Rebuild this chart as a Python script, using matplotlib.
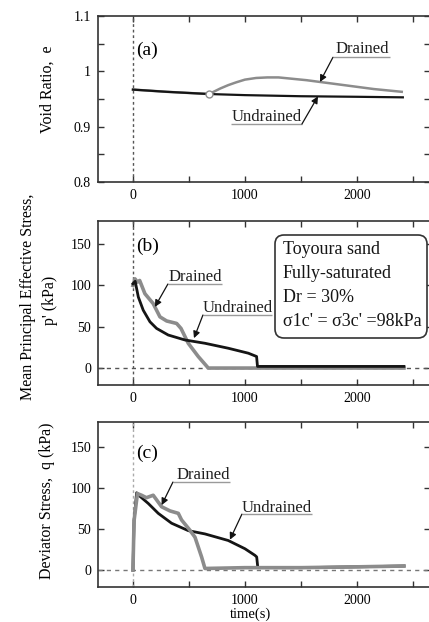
import numpy as np
import matplotlib
matplotlib.use("Agg")
import matplotlib.pyplot as plt
from matplotlib.patches import FancyBboxPatch
from matplotlib.ticker import FixedLocator, FixedFormatter, MultipleLocator

plt.rcParams['font.family'] = ['Liberation Serif', 'DejaVu Serif']

# ---- (a) void ratio ----
t_e_undr = [0, 300, 679, 1000, 1500, 2000, 2410]
e_undr = [0.967, 0.963, 0.959, 0.957, 0.955, 0.954, 0.953]
t_e_dr = [0, 300, 679, 720, 780, 850, 920, 1000, 1100, 1200, 1300, 1400,
          1550, 1700, 1850, 2000, 2150, 2300, 2400]
e_dr = [0.967, 0.963, 0.959, 0.963, 0.969, 0.975, 0.980, 0.985, 0.988, 0.989,
        0.989, 0.987, 0.984, 0.980, 0.976, 0.972, 0.968, 0.965, 0.963]
t_e_mark = [679]
e_mark = [0.959]

# ---- (b) mean principal effective stress ----
t_p_undr = [0, 20, 48, 92, 152, 211, 315, 464, 643, 851, 1030, 1104, 1112,
            1400, 1800, 2420]
p_undr = [102, 105, 86, 70, 56, 48, 40, 34, 30, 24, 18, 14, 2, 2, 2, 2]
t_p_dr = [0, 18, 40, 60, 107, 181, 241, 301, 390, 429, 494, 583, 673, 2420]
p_dr = [100, 108, 104, 106, 90, 78, 62, 57, 54, 48, 30, 14, 0, 0]

# ---- (c) deviator stress ----
t_q_undr = [0, 10, 33, 60, 137, 226, 345, 494, 643, 851, 1000, 1089, 1105,
            1115, 1500, 2000, 2420]
q_undr = [0, 60, 94, 90, 81, 69, 57, 48, 44, 36, 26, 18, 16, 3, 3, 4, 5]
t_q_dr = [0, 10, 40, 77, 120, 181, 256, 330, 405, 434, 500, 554, 613, 643,
          1000, 1500, 2000, 2420]
q_dr = [0, 60, 93, 91, 88, 91, 77, 72, 69, 61, 50, 40, 16, 2, 3, 3, 4, 5]

x_ticks = [0, 1000, 2000]
x_ticklabels = ['0', '1000', '2000']
e_ticks = [0.8, 0.9, 1.0, 1.1]
e_ticklabels = ['0.8', '0.9', '1', '1.1']
s_ticks = [0, 50, 100, 150]
s_ticklabels = ['0', '50', '100', '150']

info_lines = ["Toyoura sand", "Fully-saturated", "Dr = 30%",
              "\u03c31c' = \u03c33c' =98kPa"]

GRAY = '#8c8c8c'
BLACK = '#151515'

W, H = 429, 622
fig = plt.figure(figsize=(W / 100, H / 100), dpi=100)
fig.patch.set_facecolor('white')


def axes_px(left, top, right, bottom):
    return fig.add_axes([left / W, 1 - bottom / H, (right - left) / W,
                         (bottom - top) / H])


ax_a = axes_px(98, 16, 429.5, 182)
ax_b = axes_px(98, 221, 429.5, 385)
ax_c = axes_px(98, 422, 429.5, 587)

XLIM = (-312, 2648)


def style(ax, yticks, ylabels, ylim, yminor=None):
    ax.set_xlim(*XLIM)
    ax.set_ylim(*ylim)
    ax.xaxis.set_major_locator(FixedLocator(x_ticks))
    ax.xaxis.set_major_formatter(FixedFormatter(x_ticklabels))
    ax.xaxis.set_minor_locator(MultipleLocator(500))
    ax.yaxis.set_major_locator(FixedLocator(yticks))
    ax.yaxis.set_major_formatter(FixedFormatter(ylabels))
    if yminor is not None:
        ax.yaxis.set_minor_locator(MultipleLocator(yminor))
    ax.tick_params(which='both', direction='in', top=True, right=True,
                   length=4.5, width=1.0, color='#333333')
    ax.tick_params(which='major', labelsize=10, pad=5)
    for sp in ax.spines.values():
        sp.set_linewidth(1.2)
        sp.set_color('#333333')
    ax.set_facecolor('white')


def label_with_leader(ax, text, center, uline, start, tip):
    ax.text(center[0], center[1], text, fontsize=12, ha='center',
            va='center', color='#202020')
    ax.plot(uline[0], uline[1], color='#9a9a9a', lw=1.0,
            solid_capstyle='butt')
    ax.annotate('', xy=tip, xytext=start,
                arrowprops=dict(arrowstyle='-|>', color='#111111', lw=0.9,
                                mutation_scale=10, shrinkA=0, shrinkB=0))


# ---------- panel (a) ----------
style(ax_a, e_ticks, e_ticklabels, (0.8, 1.1), yminor=0.05)
ax_a.axvline(0, color='#555555', lw=1.0, ls=(0, (2, 2)))
ax_a.plot(t_e_dr, e_dr, color=GRAY, lw=1.8)
ax_a.plot(t_e_undr, e_undr, color=BLACK, lw=1.6)
ax_a.plot(t_e_mark, e_mark, 'o', ms=5, mfc='white', mec=GRAY, mew=1.0)
ax_a.text(27, 1.0386, '(a)', fontsize=14, ha='left', va='center')
label_with_leader(ax_a, 'Drained', (2045, 1.040),
                  ([1786, 2295], [1.0254, 1.0254]), (1786, 1.0254),
                  (1670, np.interp(1670, t_e_dr, e_dr)))
label_with_leader(ax_a, 'Undrained', (1196, 0.9175),
                  ([875, 1509], [0.9048, 0.9048]), (1509, 0.9048),
                  (1652, np.interp(1652, t_e_undr, e_undr)))

# ---------- panel (b) ----------
style(ax_b, s_ticks, s_ticklabels, (-20.5, 178))
ax_b.axvline(0, color='#555555', lw=1.0, ls=(0, (2, 2)))
ax_b.axhline(0, color='#555555', lw=1.0, ls=(0, (3, 3)))
ax_b.plot(t_p_dr, p_dr, color=GRAY, lw=2.6)
ax_b.plot(t_p_undr, p_undr, color=BLACK, lw=2.0)
ax_b.text(27, 147, '(b)', fontsize=14, ha='left', va='center')
label_with_leader(ax_b, 'Drained', (554, 110.5),
                  ([312, 795], [101.7, 101.7]), (312, 101.7),
                  (196, np.interp(196, t_p_dr, p_dr)))
label_with_leader(ax_b, 'Undrained', (937, 72.6),
                  ([625, 1241], [64.2, 64.2]), (625, 64.2),
                  (545, np.interp(545, t_p_undr, p_undr) + 4))

box = FancyBboxPatch((275 / 100, (H - 338) / 100), 152 / 100, 103 / 100,
                     boxstyle='round,pad=0,rounding_size=0.09',
                     transform=fig.dpi_scale_trans, facecolor='white',
                     edgecolor='#333333', lw=1.2, zorder=5)
fig.patches.append(box)
for line, ypx in zip(info_lines, [250, 274, 297, 322]):
    fig.text(283 / W, 1 - ypx / H, line, fontsize=13, ha='left',
             va='center', zorder=6, color='#151515')

# ---------- panel (c) ----------
style(ax_c, s_ticks, s_ticklabels, (-20.5, 180))
ax_c.axvline(0, color='#aaaaaa', lw=1.0, ls=(0, (2, 2)))
ax_c.axhline(0, color='#777777', lw=1.0, ls=(0, (3, 3)))
ax_c.plot(t_q_undr, q_undr, color=BLACK, lw=2.0)
ax_c.plot(t_q_dr, q_dr, color=GRAY, lw=2.6)
ax_c.text(27, 141.6, '(c)', fontsize=14, ha='left', va='center')
label_with_leader(ax_c, 'Drained', (625, 115),
                  ([357, 866], [107, 107]), (357, 107),
                  (256, np.interp(256, t_q_dr, q_dr) + 2))
label_with_leader(ax_c, 'Undrained', (1286, 75),
                  ([973, 1598], [68, 68]), (973, 68),
                  (866, np.interp(866, t_q_undr, q_undr) + 2))

# ---------- axis titles ----------
fig.text(48 / W, 1 - 89 / H, 'Void Ratio,  e', rotation=90, fontsize=11.5,
         ha='center', va='center')
fig.text(28 / W, 1 - 297 / H, 'Mean Principal Effective Stress,',
         rotation=90, fontsize=11.5, ha='center', va='center')
fig.text(50 / W, 1 - 300 / H, "p' (kPa)", rotation=90, fontsize=11.5,
         ha='center', va='center')
fig.text(47 / W, 1 - 501 / H, 'Deviator Stress,  q (kPa)', rotation=90,
         fontsize=11.5, ha='center', va='center')
fig.text(251 / W, 1 - 614 / H, 'time(s)', fontsize=10.5, ha='center',
         va='center')

fig.savefig('out.png', dpi=100, facecolor='white')
